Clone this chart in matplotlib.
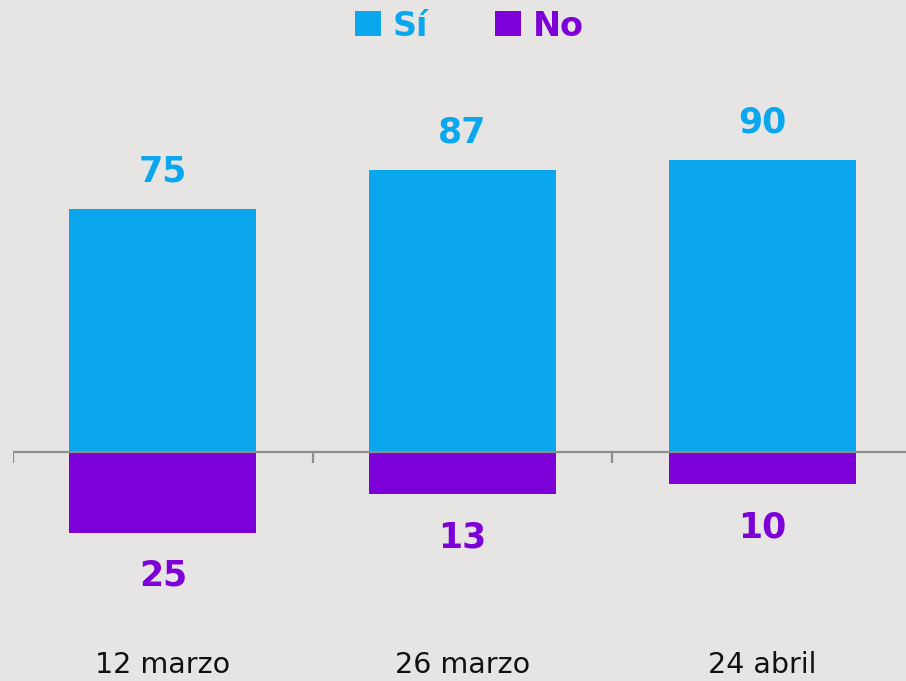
import matplotlib
matplotlib.use("Agg")
import matplotlib.pyplot as plt
from matplotlib.patches import Patch
import numpy as np

categories = ["12 marzo", "26 marzo", "24 abril"]
si_values = [75, 87, 90]
no_values = [25, 13, 10]

BLUE = "#0AA7EE"
PURPLE = "#7E00D8"
BG = "#E7E5E3"
AXIS = "#8E8E8E"
FONT = "DejaVu Sans"

W, H = 906, 681
fig = plt.figure(figsize=(W / 100, H / 100), dpi=100, facecolor=BG)
left_px, right_px = 13, 912
ax = fig.add_axes([left_px / W, 0, (right_px - left_px) / W, 1])
ax.set_facecolor(BG)

x = np.arange(len(categories))
scale = 3.24  # px per unit
zero_px = 452
ax.set_xlim(-0.5, len(categories) - 0.5)
ax.set_ylim(-(H - zero_px) / scale, zero_px / scale)

bw = 0.625
ax.bar(x, si_values, width=bw, color=BLUE, zorder=2)
ax.bar(x, [-v for v in no_values], width=bw, color=PURPLE, zorder=2)

ax.axhline(0, color=AXIS, lw=1.6, zorder=3)
for b in np.arange(-0.5, len(categories) + 0.5, 1.0):
    ax.plot([b, b], [0, -11 / scale], color=AXIS, lw=1.6, zorder=3, solid_capstyle="butt")

for xi, v in zip(x, si_values):
    ax.annotate(str(v), (xi, v), xytext=(0, 38), textcoords="offset pixels",
                ha="center", va="center", color=BLUE, fontsize=25,
                fontweight="bold", family=FONT)
for xi, v in zip(x, no_values):
    ax.annotate(str(v), (xi, -v), xytext=(0, -43), textcoords="offset pixels",
                ha="center", va="center", color=PURPLE, fontsize=25,
                fontweight="bold", family=FONT)
for xi, c in zip(x, categories):
    ax.text(xi, -(665 - zero_px) / scale, c, ha="center", va="center",
            fontsize=20.5, color="#111111", family=FONT)

for s in ax.spines.values():
    s.set_visible(False)
ax.set_xticks([])
ax.set_yticks([])

handles = [Patch(facecolor=BLUE, edgecolor="none"), Patch(facecolor=PURPLE, edgecolor="none")]
leg = fig.legend(handles, ["Sí", "No"], loc="center", bbox_to_anchor=(469.5 / W, 1 - 26 / H),
                 ncol=2, frameon=False, handlelength=0.78, handleheight=0.78,
                 handletextpad=0.36, columnspacing=2.0,
                 prop={"family": FONT, "weight": "bold", "size": 24})
for t, col in zip(leg.get_texts(), [BLUE, PURPLE]):
    t.set_color(col)

fig.savefig("out.png", dpi=100, facecolor=BG)
